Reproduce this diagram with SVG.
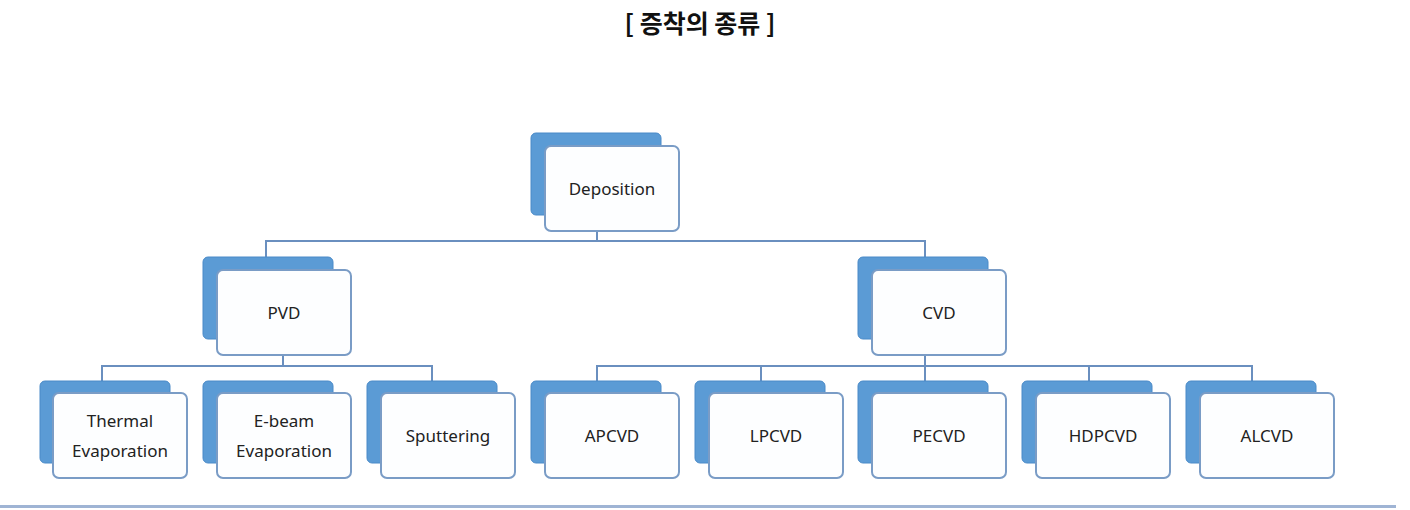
<svg xmlns="http://www.w3.org/2000/svg" width="1410" height="510" viewBox="0 0 1410 510">
<style>
.bk{fill:#5b9bd5;stroke:#4a8ac8;stroke-width:1}
.fr{fill:#fdfeff;stroke:#7a9cc6;stroke-width:2}
.t{font-family:"Noto Sans","Open Sans",sans-serif;font-size:17px;fill:#222;text-anchor:middle}
.c{fill:none;stroke:#6a8fbf;stroke-width:2}
</style>
<rect width="1410" height="510" fill="#fff"/>
<text x="700" y="33" font-family="'Noto Sans CJK KR',sans-serif" font-size="25" font-weight="bold" text-anchor="middle" fill="#111">[ 증착의 종류 ]</text>
<g id="connectors">
<path class="c" d="M597 230V241M266 257V241H925V257"/>
<path class="c" d="M283 355V366M102 381V366H432V381"/>
<path class="c" d="M925 355V366M597 381V366H1252V381M761 366V381M925 366V381M1089 366V381"/>
</g>
<g id="deposition"><rect class="bk" x="531" y="133" width="130" height="82" rx="5"/><rect class="fr" x="545" y="146" width="134" height="85" rx="6"/><text class="t" x="612" y="195">Deposition</text></g>
<g id="pvd"><rect class="bk" x="203" y="257" width="130" height="82" rx="5"/><rect class="fr" x="217" y="270" width="134" height="85" rx="6"/><text class="t" x="284" y="319">PVD</text></g>
<g id="cvd"><rect class="bk" x="858" y="257" width="130" height="82" rx="5"/><rect class="fr" x="872" y="270" width="134" height="85" rx="6"/><text class="t" x="939" y="319">CVD</text></g>
<g id="thermal"><rect class="bk" x="40" y="381" width="130" height="82" rx="5"/><rect class="fr" x="53" y="393" width="134" height="85" rx="6"/><text class="t" x="120" y="427">Thermal</text><text class="t" x="120" y="457">Evaporation</text></g>
<g id="ebeam"><rect class="bk" x="203" y="381" width="130" height="82" rx="5"/><rect class="fr" x="217" y="393" width="134" height="85" rx="6"/><text class="t" x="284" y="427">E-beam</text><text class="t" x="284" y="457">Evaporation</text></g>
<g id="sputtering"><rect class="bk" x="367" y="381" width="130" height="82" rx="5"/><rect class="fr" x="381" y="393" width="134" height="85" rx="6"/><text class="t" x="448" y="442">Sputtering</text></g>
<g id="apcvd"><rect class="bk" x="531" y="381" width="130" height="82" rx="5"/><rect class="fr" x="545" y="393" width="134" height="85" rx="6"/><text class="t" x="612" y="442">APCVD</text></g>
<g id="lpcvd"><rect class="bk" x="695" y="381" width="130" height="82" rx="5"/><rect class="fr" x="709" y="393" width="134" height="85" rx="6"/><text class="t" x="776" y="442">LPCVD</text></g>
<g id="pecvd"><rect class="bk" x="858" y="381" width="130" height="82" rx="5"/><rect class="fr" x="872" y="393" width="134" height="85" rx="6"/><text class="t" x="939" y="442">PECVD</text></g>
<g id="hdpcvd"><rect class="bk" x="1022" y="381" width="130" height="82" rx="5"/><rect class="fr" x="1036" y="393" width="134" height="85" rx="6"/><text class="t" x="1103" y="442">HDPCVD</text></g>
<g id="alcvd"><rect class="bk" x="1186" y="381" width="130" height="82" rx="5"/><rect class="fr" x="1200" y="393" width="134" height="85" rx="6"/><text class="t" x="1267" y="442">ALCVD</text></g>
<rect x="0" y="505" width="1396" height="3" fill="#9fb4d4"/>
</svg>
